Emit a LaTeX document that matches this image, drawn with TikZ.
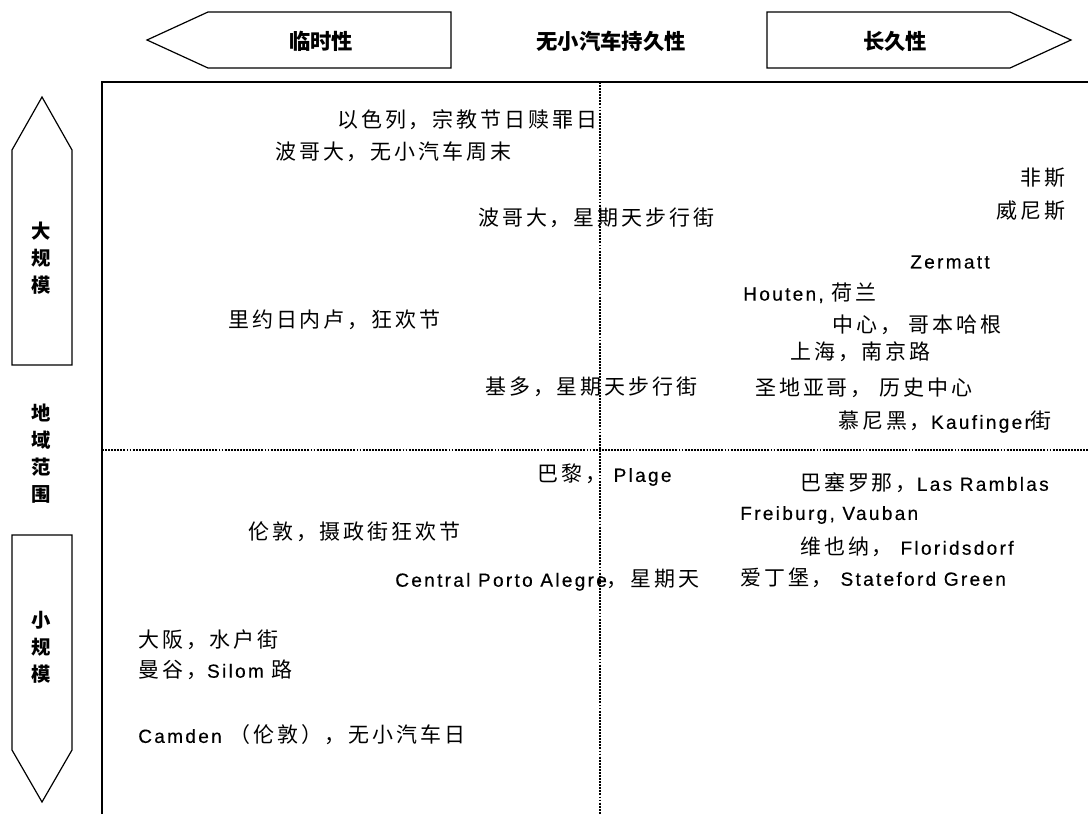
\documentclass[tikz,border=0pt]{standalone}
\usepackage{fontspec}
\setmainfont{Liberation Sans}[LetterSpace=12, FakeBold=0.35]
\newfontfamily\zh{Noto Sans CJK SC}[Scale=1.1, LetterSpace=14]
\newfontfamily\zhhead{Noto Sans CJK SC}
\newcommand\cn[1]{{\zh #1}}
\usetikzlibrary{positioning}

\begin{document}
\begin{tikzpicture}[x=0.75pt, y=-0.75pt, font=\fontsize{14.3pt}{16pt}\selectfont,
	place/.style={anchor=west, inner sep=0pt},
	placeright/.style={anchor=east, inner sep=0pt},
	banner/.style={draw, line width=0.9pt, line join=miter},
	bannertext/.style={inner sep=0pt, font=\zhhead\bfseries\fontsize{16pt}{18pt}\selectfont},
	sidetext/.style={inner sep=0pt, align=center, font=\zhhead\bfseries\fontsize{14.5pt}{20.25pt}\selectfont},
	axisline/.style={line width=1.5pt, dash pattern=on 1.4pt off 0.9pt}]
	\useasboundingbox (0,0) rectangle (1088,814);
	% frame and quadrant lines
	\coordinate (frameNW) at (102,82);
	\coordinate (frameNE) at (1088,82);
	\coordinate (frameSW) at (102,814);
	\coordinate (midN) at (600,82);
	\coordinate (midS) at (600,814);
	\coordinate (midW) at (102,450);
	\coordinate (midE) at (1088,450);
	\draw [line width=1.2pt] (frameSW) -- (frameNW) -- (frameNE);
	\draw [axisline] (midN) -- (midS);
	\draw [axisline] (midW) -- (midE);
	% top banners
	\draw [banner] (147,40) -- (208,12) -- (451,12) -- (451,68) -- (208,68) -- cycle;
	\draw [banner] (767,12) -- (1010,12) -- (1071,40) -- (1010,68) -- (767,68) -- cycle;
	\node [bannertext] (temporary) at (321,41) {临时性};
	\node [bannertext] (permanence) at (611,41) {无小汽车持久性};
	\node [bannertext] (permanent) at (895,41) {长久性};
	% side banners
	\draw [banner] (42,97) -- (72,150) -- (72,365) -- (12,365) -- (12,150) -- cycle;
	\draw [banner] (12,535) -- (72,535) -- (72,750) -- (42,802) -- (12,750) -- cycle;
	\node [sidetext] (large) at (41,258) {大\\规\\模};
	\node [sidetext] (scope) at (41,454) {地\\域\\范\\围};
	\node [sidetext] (small) at (41,647) {小\\规\\模};
	% upper left
	\node [place] (israel) at (337,120) {\cn{以色列，宗教节日赎罪日}};
	\node [place] (bogotaweekend) at (275,152) {\cn{波哥大，无小汽车周末}};
	\node [place] (bogotasunday) at (478,218) {\cn{波哥大，星期天步行街}};
	\node [place] (rio) at (228,320) {\cn{里约日内卢，狂欢节}};
	\node [place] (quito) at (485,387) {\cn{基多，星期天步行街}};
	% upper right
	\node [placeright] (fez) at (1066,178) {\cn{非斯}};
	\node [placeright] (venice) at (1066,211) {\cn{威尼斯}};
	\node [place] (zermatt) at (910,262) {Zermatt};
	\node [place] (houten) at (743,293) {Houten, \cn{荷兰}};
	\node [place] (copenhagen) at (832,325) {\cn{中心， 哥本哈根}};
	\node [place] (shanghai) at (790,352) {\cn{上海，南京路}};
	\node [place] (santiago) at (755,388) {\cn{圣地亚哥， 历史中心}};
	\node [place] (munich) at (838,422) {\cn{慕尼黑，}Kaufinger\cn{街}};
	% lower left
	\node [place] (paris) at (537,475) {\cn{巴黎，} Plage};
	\node [place] (london) at (248,532) {\cn{伦敦，摄政街狂欢节}};
	\node [place] (portoalegre) at (395,580) {Central Porto Alegre\cn{，星期天}};
	\node [place] (osaka) at (138,640) {\cn{大阪，水户街}};
	\node [place] (bangkok) at (138,670) {\cn{曼谷，}Silom \cn{路}};
	\node [place] (camden) at (138,735) {Camden \cn{（伦敦），无小汽车日}};
	% lower right
	\node [place] (barcelona) at (800,483) {\cn{巴塞罗那，}Las Ramblas};
	\node [place] (freiburg) at (740,515) {Freiburg, Vauban};
	\node [place] (vienna) at (800,547) {\cn{维也纳，} Floridsdorf};
	\node [place] (edinburgh) at (740,578) {\cn{爱丁堡，} Stateford Green};
\end{tikzpicture}
\end{document}
